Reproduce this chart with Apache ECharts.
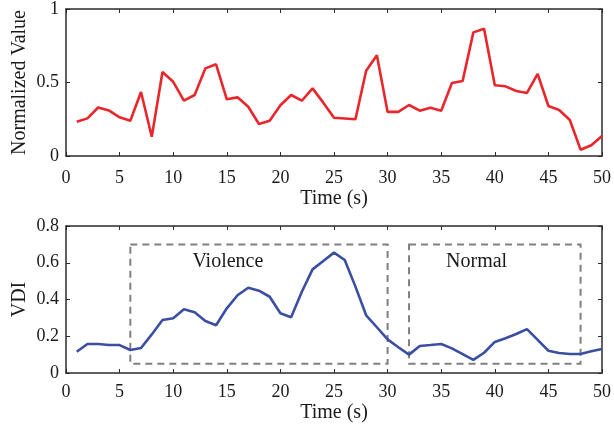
<!DOCTYPE html>
<html>
<head>
<meta charset="utf-8">
<script src="https://cdn.jsdelivr.net/npm/echarts@6/dist/echarts.min.js"></script>
<style>
  html, body { margin: 0; padding: 0; background: #fff; }
  #chart { width: 614px; height: 430px; }
</style>
</head>
<body>
<div id="chart"></div>
<script>
const times = [1,2,3,4,5,6,7,8,9,10,11,12,13,14,15,16,17,18,19,20,21,22,23,24,25,
  26,27,28,29,30,31,32,33,34,35,36,37,38,39,40,41,42,43,44,45,46,47,48,49,50]

const normalizedValues = [0.233,0.256,0.33,0.31,0.263,0.24,0.435,0.131,0.571,0.505,
  0.376,0.415,0.596,0.624,0.386,0.399,0.335,0.218,0.24,0.345,
  0.415,0.376,0.46,0.363,0.26,0.255,0.25,0.58,0.685,0.30,
  0.30,0.347,0.308,0.329,0.308,0.497,0.51,0.841,0.866,0.481,
  0.474,0.442,0.429,0.558,0.34,0.313,0.245,0.043,0.073,0.136]

const vdiValues = [0.116,0.158,0.158,0.152,0.152,0.125,0.136,0.21,0.288,0.298,
  0.347,0.33,0.283,0.26,0.352,0.423,0.464,0.448,0.415,0.325,
  0.303,0.442,0.564,0.61,0.655,0.615,0.47,0.314,0.249,0.183,
  0.14,0.10,0.147,0.152,0.158,0.134,0.103,0.071,0.11,0.169,
  0.189,0.212,0.239,0.18,0.121,0.109,0.103,0.103,0.118,0.131]

// dashed boxes [tStart, vBottom, tEnd, vTop] and their labels [t, v]
const violenceBox = [6, 0.05, 30, 0.7]
const normalBox = [32, 0.05, 48, 0.7]
const violenceLabel = [15.1, 0.605]
const normalLabel = [38.3, 0.605]

const xTicks = { min: 0, max: 50, interval: 5 }
const topTicks = { min: 0, max: 1, interval: 0.5 }
const bottomTicks = { min: 0, max: 0.8, interval: 0.2 }

const font = 'Liberation Serif'
const frame = '#2b2b2b'
const ink = '#1a1a1a'

function xAxisPair(gridIndex, gap) {
  const base = {
    type: 'value', gridIndex, min: xTicks.min, max: xTicks.max, interval: xTicks.interval,
    splitLine: { show: false },
    axisLine: { show: true, onZero: false, lineStyle: { color: frame, width: 1.5 } },
    axisTick: { show: true, inside: true, length: 4, lineStyle: { color: frame, width: 1 } }
  }
  return [
    Object.assign({}, base, {
      position: 'bottom',
      name: 'Time (s)', nameLocation: 'middle', nameGap: gap, nameMoveOverlap: false,
      nameTextStyle: { fontFamily: font, fontSize: 20, color: ink },
      axisLabel: { fontFamily: font, fontSize: 18, color: ink, margin: gap - 20 }
    }),
    Object.assign({}, base, { position: 'top', axisLabel: { show: false } })
  ]
}

function yAxisPair(gridIndex, ticks, name) {
  const base = {
    type: 'value', gridIndex, min: ticks.min, max: ticks.max, interval: ticks.interval,
    splitLine: { show: false },
    axisLine: { show: true, onZero: false, lineStyle: { color: frame, width: 1.5 } },
    axisTick: { show: true, inside: true, length: 4, lineStyle: { color: frame, width: 1 } }
  }
  return [
    Object.assign({}, base, {
      position: 'left',
      name, nameLocation: 'middle', nameGap: 36, nameRotate: 90, nameMoveOverlap: false,
      nameTextStyle: { fontFamily: font, fontSize: 20, color: ink },
      axisLabel: { fontFamily: font, fontSize: 18, color: ink, margin: 7 }
    }),
    Object.assign({}, base, { position: 'right', axisLabel: { show: false } })
  ]
}

function boxArea(box) {
  return [{ coord: [box[0], box[3]] }, { coord: [box[2], box[1]] }]
}

function textPoint(pos, text) {
  return {
    coord: pos, symbol: 'circle', symbolSize: 0,
    label: { show: true, position: 'inside', formatter: text,
      fontFamily: font, fontSize: 20, color: ink }
  }
}

const chart = echarts.init(document.getElementById('chart'), null, { renderer: 'canvas' })

chart.setOption({
  animation: false,
  grid: [
    { left: 66, right: 12, top: 9, height: 147, outerBoundsMode: 'none' },
    { left: 66, right: 12, top: 226, height: 147, outerBoundsMode: 'none' }
  ],
  xAxis: [...xAxisPair(0, 33), ...xAxisPair(1, 30)],
  yAxis: [...yAxisPair(0, topTicks, 'Normalized Value'), ...yAxisPair(1, bottomTicks, 'VDI')],
  series: [
    {
      type: 'line', xAxisIndex: 0, yAxisIndex: 0,
      data: times.map((t, i) => [t, normalizedValues[i]]),
      showSymbol: false,
      lineStyle: { color: '#e8262b', width: 2.6 }
    },
    {
      type: 'line', xAxisIndex: 2, yAxisIndex: 2,
      data: times.map((t, i) => [t, vdiValues[i]]),
      showSymbol: false,
      lineStyle: { color: '#3a4ea2', width: 2.6 },
      markArea: {
        silent: true,
        itemStyle: { color: 'rgba(0,0,0,0)', borderColor: '#808080', borderWidth: 2, borderType: [7, 5] },
        label: { show: false },
        data: [boxArea(violenceBox), boxArea(normalBox)]
      },
      markPoint: {
        silent: true,
        data: [textPoint(violenceLabel, 'Violence'), textPoint(normalLabel, 'Normal')]
      }
    }
  ]
})
</script>
</body>
</html>
